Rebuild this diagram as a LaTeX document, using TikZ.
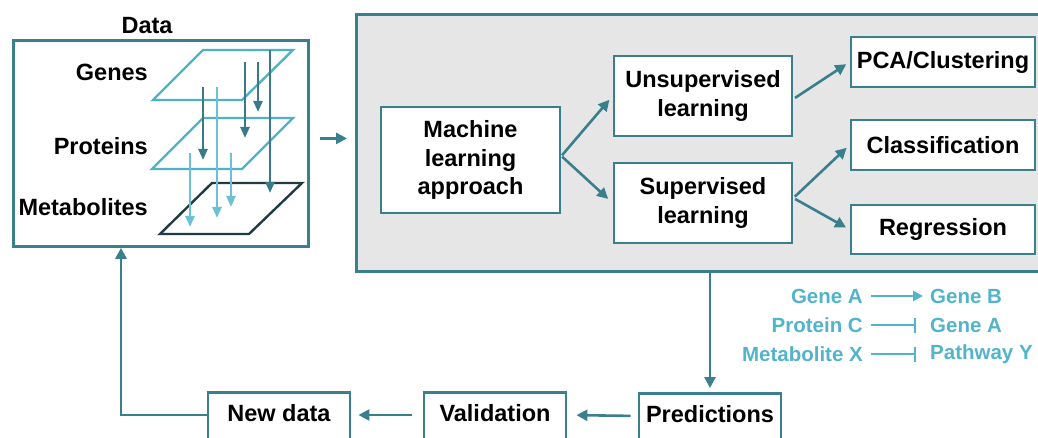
\documentclass[tikz,border=0pt]{standalone}
\usepackage{fontspec}
\setmainfont{Liberation Sans}
\usetikzlibrary{arrows.meta,calc}
\definecolor{bordc}{HTML}{3A7F8D}
\definecolor{arrc}{HTML}{3A7F8D}
\definecolor{grayc}{HTML}{E6E6E6}
\definecolor{legc}{HTML}{52B4CB}
\definecolor{planec}{HTML}{4FB3C8}
\definecolor{metc}{HTML}{1F3C42}
\definecolor{darkarr}{HTML}{3A7A88}
\definecolor{lightarr}{HTML}{6CC1D5}
\begin{document}
\begin{tikzpicture}[x=1pt,y=-1pt,
  box/.style={draw=bordc, line width=2.8pt, fill=white, inner sep=0pt, align=center,
    font=\bfseries\fontsize{23.5}{28.5}\selectfont},
  cutbox/.style={box, anchor=north, minimum width=142pt, text height=29pt, text depth=45pt},
  arr/.style={draw=arrc, line width=2.6pt, -{Triangle[length=11pt,width=11pt]}},
  lbl/.style={inner sep=0pt, font=\bfseries\fontsize{23.5}{28}\selectfont},
  leg/.style={inner sep=0pt, text=legc, font=\bfseries\fontsize{20.5}{24}\selectfont},
  legline/.style={draw=legc, line width=2.4pt},
  plane/.style={line width=2.4pt, line join=miter},
  darr/.style={draw=darkarr, line width=2.4pt, -{Triangle[length=11pt,width=9pt]}},
  larr/.style={draw=lightarr, line width=2.4pt, -{Triangle[length=11pt,width=9pt]}}
]
\useasboundingbox (0,0) rectangle (1038,438);
\clip (0,0) rectangle (1038,438);

% gray ML box
\node[draw=bordc, fill=grayc, line width=2.8pt, inner sep=0pt, minimum width=700pt, minimum height=257pt, anchor=north west] (ml) at (355,13) {};

% Data box
\node[draw=bordc, fill=white, line width=2.8pt, inner sep=0pt, minimum width=295pt, minimum height=206pt, anchor=north west] (data) at (12,39) {};
\node[lbl] (datalbl) at (147,26) {Data};
\node[lbl, anchor=east] (genes) at (148,72) {Genes};
\node[lbl, anchor=east] (proteins) at (148,146) {Proteins};
\node[lbl, anchor=east] (metab) at (148,207) {Metabolites};

% planes
\draw[plane, draw=planec] (153,100) -- (203,50) -- (293,50) -- (242,100) -- cycle;
\draw[plane, draw=planec] (152,169) -- (203,118) -- (293,118) -- (242,169) -- cycle;
\draw[plane, draw=metc] (160,234) -- (212,183) -- (302,183) -- (249,234) -- cycle;

% vertical arrows
\draw[darr] (270,50) -- (270,193);
\draw[darr] (258,62) -- (258,112);
\draw[darr] (245,62) -- (245,138);
\draw[darr] (203,87) -- (203,160);
\draw[larr] (217,87) -- (217,218);
\draw[larr] (190,153) -- (190,227);
\draw[larr] (231,153) -- (231,207);

% ML boxes
\node[box, minimum width=179pt, minimum height=106pt] (machine) at (470.5,160) {Machine\\learning\\approach};
\node[box, minimum width=178pt, minimum height=80pt] (unsup) at (703,96) {Unsupervised\\learning};
\node[box, minimum width=178pt, minimum height=80pt] (sup) at (703,203) {Supervised\\learning};
\node[box, minimum width=184pt, minimum height=50pt] (pca) at (943,62) {PCA/Clustering};
\node[box, minimum width=184pt, minimum height=50pt] (cls) at (943,145) {Classification};
\node[box, minimum width=184pt, minimum height=49pt] (reg) at (943,229.5) {Regression};

\draw[arr, shorten <=10pt, shorten >=8pt] ([yshift=5pt]data.east) -- ([yshift=5pt]data.east -| ml.west);
\draw[arr, shorten <=1pt, shorten >=5pt] ([yshift=4pt]machine.east) -- (unsup.west);
\draw[arr, shorten <=1pt, shorten >=6pt] ([yshift=4pt]machine.east) -- (sup.west);
\draw[arr, shorten <=2pt, shorten >=4pt] ([yshift=-3pt]unsup.east) -- (pca.west);
\draw[arr, shorten <=2pt, shorten >=4pt] ([yshift=5pt]sup.east) -- (cls.west);
\draw[arr, shorten <=2pt, shorten >=4pt] ([yshift=5pt]sup.east) -- (reg.west);

% bottom boxes
\node[cutbox] (pred) at (710,392) {Predictions};
\node[cutbox] (valid) at (495,391) {Validation};
\node[cutbox] (newdata) at (279,391) {New data};

\draw[arr, shorten >=4pt] (pred.north |- ml.south) -- (pred.north);
\draw[arr, shorten <=7pt, shorten >=9pt] ([yshift=-24pt]pred.north west) -- ([yshift=-24pt]valid.north east);
\draw[arr, shorten <=11pt, shorten >=7pt] ([yshift=-24pt]valid.north west) -- ([yshift=-24pt]newdata.north east);
\draw[arr] ([yshift=-24pt]newdata.north west) -| ([xshift=109pt]data.south west);

% legend
\node[leg, anchor=east] (ga) at (863,296) {Gene A};
\node[leg, anchor=west] (gb) at (930,296) {Gene B};
\node[leg, anchor=east] (pc) at (863,325) {Protein C};
\node[leg, anchor=west] (ga2) at (930,325) {Gene A};
\node[leg, anchor=east] (mx) at (863,354) {Metabolite X};
\node[leg, anchor=west] (py) at (930,354) {Pathway Y};
\draw[legline, -{Triangle[length=10pt,width=10pt]}, shorten <=8pt, shorten >=7pt] (ga.east) -- (gb.west);
\draw[legline, -{Bar[width=15pt]}, shorten <=8pt, shorten >=14pt] (pc.east) -- (ga2.west);
\draw[legline, -{Bar[width=15pt]}, shorten <=8pt, shorten >=14pt] (mx.east) -- (py.west);
\end{tikzpicture}
\end{document}
